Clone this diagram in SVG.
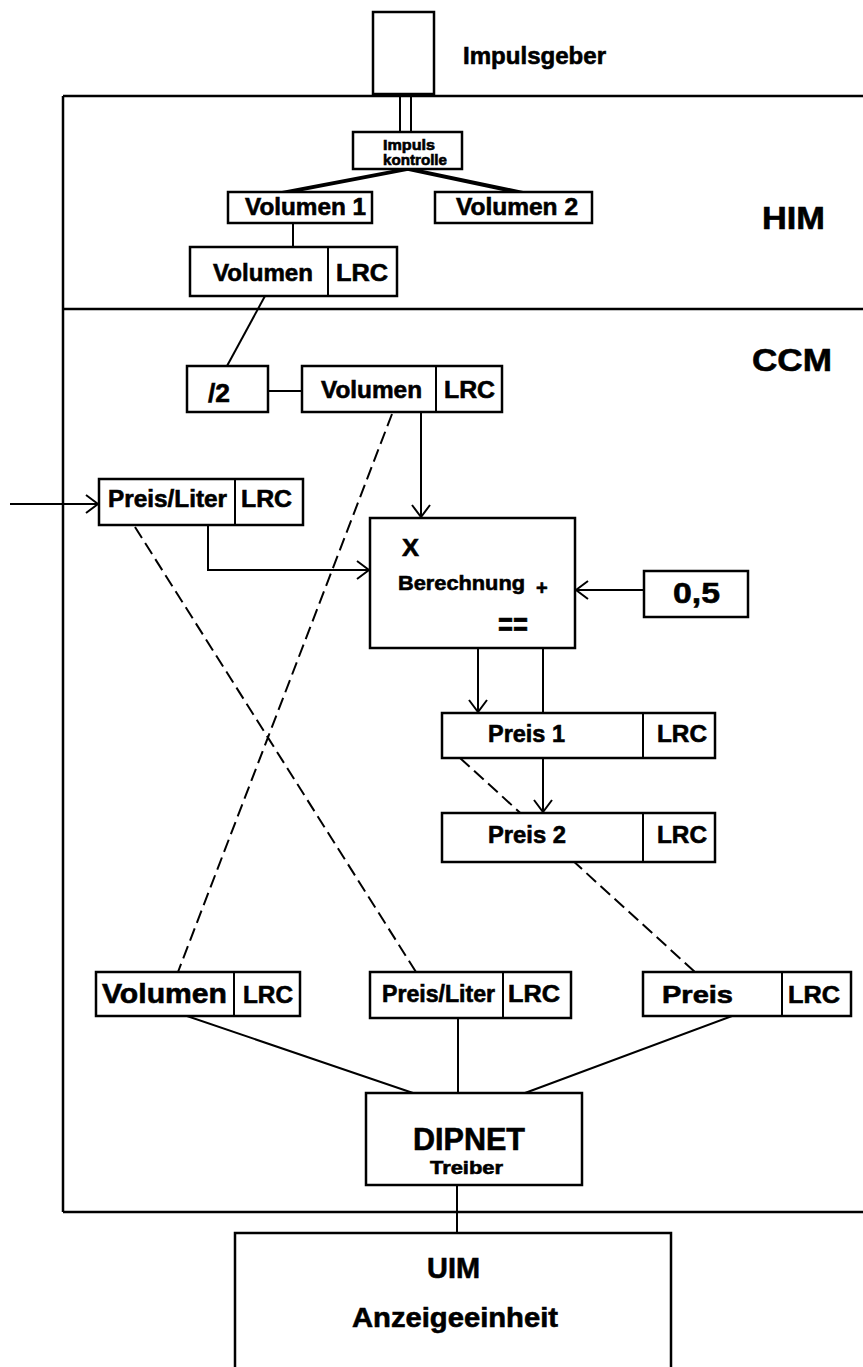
<svg xmlns="http://www.w3.org/2000/svg" width="863" height="1367" viewBox="0 0 863 1367">
<style>
  .box { fill: #fff; stroke: #000; stroke-width: 2.5; }
  .div { stroke: #000; stroke-width: 2; }
  .frame { stroke: #000; stroke-width: 2.5; fill: none; }
  .ln { stroke: #000; stroke-width: 2; fill: none; }
  .dash { stroke: #000; stroke-width: 2; fill: none; stroke-dasharray: 13 6; }
  .arr { marker-end: url(#ah); }
  text { font-family: "Liberation Sans", Arial, sans-serif; font-weight: bold; fill: #000; stroke: #000; stroke-width: 0.6; }
</style>
<defs>
  <marker id="ah" viewBox="0 0 14 20" refX="13" refY="10" markerWidth="14" markerHeight="20" markerUnits="userSpaceOnUse" orient="auto">
    <path d="M1,1 L13,10 L1,19" fill="none" stroke="#000" stroke-width="2"/>
  </marker>
</defs>
<rect width="863" height="1367" fill="#fff"/>

<g id="frame">
  <line class="frame" x1="63" y1="96" x2="863" y2="96"/>
  <line class="frame" x1="63" y1="96" x2="63" y2="1212"/>
  <line class="frame" x1="63" y1="1212" x2="863" y2="1212"/>
  <line class="frame" x1="63" y1="309" x2="863" y2="309"/>
  <text x="762" y="229" font-size="32" textLength="63" lengthAdjust="spacingAndGlyphs">HIM</text>
  <text x="752" y="371" font-size="32" textLength="80" lengthAdjust="spacingAndGlyphs">CCM</text>
</g>

<g id="connectors">
  <line class="ln" x1="400" y1="94" x2="400" y2="132"/>
  <line class="ln" x1="411" y1="94" x2="411" y2="132"/>
  <path class="ln" d="M403,169 L282,192 M412,169 L292,192"/>
  <path class="ln" d="M404,169 L513,192 M413,169 L523,192"/>
  <line class="ln" x1="293" y1="223" x2="293" y2="247"/>
  <line class="ln" x1="265" y1="296" x2="227" y2="366"/>
  <line class="ln" x1="268" y1="391" x2="302" y2="391"/>
  <line class="ln arr" x1="10" y1="504" x2="98" y2="504"/>
  <line class="ln arr" x1="421" y1="412" x2="421" y2="517"/>
  <polyline class="ln arr" points="208,525 208,570 369,570"/>
  <line class="ln arr" x1="644" y1="590" x2="576" y2="590"/>
  <line class="ln arr" x1="478" y1="648" x2="478" y2="712"/>
  <line class="ln" x1="543" y1="648" x2="543" y2="713"/>
  <line class="ln arr" x1="543" y1="758" x2="543" y2="812"/>
  <line class="dash" x1="392" y1="414" x2="178" y2="972"/>
  <line class="dash" x1="135" y1="527" x2="416" y2="972"/>
  <line class="dash" x1="460" y1="758" x2="695" y2="972"/>
  <line class="ln" x1="187" y1="1016" x2="413" y2="1093"/>
  <line class="ln" x1="458" y1="1018" x2="458" y2="1093"/>
  <line class="ln" x1="732" y1="1016" x2="525" y2="1093"/>
  <line class="ln" x1="457" y1="1185" x2="457" y2="1233"/>
</g>

<g id="impulsgeber">
  <rect class="box" x="373" y="12" width="61" height="82"/>
  <text x="463" y="64" font-size="24" textLength="143" lengthAdjust="spacingAndGlyphs">Impulsgeber</text>
</g>

<g id="impulskontrolle">
  <rect class="box" x="353" y="132" width="109" height="37"/>
  <text x="383" y="150" font-size="15" textLength="52" lengthAdjust="spacingAndGlyphs">Impuls</text>
  <text x="383" y="165" font-size="15" textLength="64" lengthAdjust="spacingAndGlyphs">kontrolle</text>
</g>

<g id="volumen1">
  <rect class="box" x="228" y="192" width="144" height="31"/>
  <text x="245" y="215" font-size="24" textLength="121" lengthAdjust="spacingAndGlyphs">Volumen 1</text>
</g>

<g id="volumen2">
  <rect class="box" x="435" y="192" width="157" height="31"/>
  <text x="456" y="215" font-size="24" textLength="122" lengthAdjust="spacingAndGlyphs">Volumen 2</text>
</g>

<g id="him-volumen">
  <rect class="box" x="190" y="247" width="207" height="49"/>
  <line class="div" x1="328" y1="247" x2="328" y2="296"/>
  <text x="213" y="281" font-size="24" textLength="100" lengthAdjust="spacingAndGlyphs">Volumen</text>
  <text x="336" y="281" font-size="24" textLength="52" lengthAdjust="spacingAndGlyphs">LRC</text>
</g>

<g id="half">
  <rect class="box" x="187" y="366" width="81" height="46"/>
  <text x="208" y="402" font-size="26" textLength="22" lengthAdjust="spacingAndGlyphs">/2</text>
</g>

<g id="ccm-volumen">
  <rect class="box" x="302" y="366" width="200" height="46"/>
  <line class="div" x1="436" y1="366" x2="436" y2="412"/>
  <text x="321" y="398" font-size="24" textLength="101" lengthAdjust="spacingAndGlyphs">Volumen</text>
  <text x="444" y="398" font-size="24" textLength="51" lengthAdjust="spacingAndGlyphs">LRC</text>
</g>

<g id="preisliter-in">
  <rect class="box" x="99" y="479" width="204" height="46"/>
  <line class="div" x1="235" y1="479" x2="235" y2="525"/>
  <text x="108" y="507" font-size="24" textLength="119" lengthAdjust="spacingAndGlyphs">Preis/Liter</text>
  <text x="241" y="507" font-size="24" textLength="51" lengthAdjust="spacingAndGlyphs">LRC</text>
</g>

<g id="berechnung">
  <rect class="box" x="370" y="518" width="205" height="130"/>
  <text x="402" y="556" font-size="24" textLength="17" lengthAdjust="spacingAndGlyphs">X</text>
  <text x="398" y="590" font-size="21" textLength="127" lengthAdjust="spacingAndGlyphs">Berechnung</text>
  <text x="536" y="595" font-size="20">+</text>
  <text x="498" y="636" font-size="34" textLength="30" lengthAdjust="spacingAndGlyphs">==</text>
</g>

<g id="konstante">
  <rect class="box" x="644" y="571" width="104" height="46"/>
  <text x="673" y="603" font-size="30" textLength="47" lengthAdjust="spacingAndGlyphs">0,5</text>
</g>

<g id="preis1">
  <rect class="box" x="442" y="713" width="273" height="45"/>
  <line class="div" x1="643" y1="713" x2="643" y2="758"/>
  <text x="488" y="742" font-size="24" textLength="77" lengthAdjust="spacingAndGlyphs">Preis 1</text>
  <text x="657" y="742" font-size="24" textLength="50" lengthAdjust="spacingAndGlyphs">LRC</text>
</g>

<g id="preis2">
  <rect class="box" x="442" y="813" width="273" height="49"/>
  <line class="div" x1="643" y1="813" x2="643" y2="862"/>
  <text x="488" y="843" font-size="24" textLength="78" lengthAdjust="spacingAndGlyphs">Preis 2</text>
  <text x="657" y="843" font-size="24" textLength="50" lengthAdjust="spacingAndGlyphs">LRC</text>
</g>

<g id="out-volumen">
  <rect class="box" x="96" y="972" width="204" height="44"/>
  <line class="div" x1="234" y1="972" x2="234" y2="1016"/>
  <text x="102" y="1003" font-size="28" textLength="125" lengthAdjust="spacingAndGlyphs">Volumen</text>
  <text x="243" y="1003" font-size="24" textLength="50" lengthAdjust="spacingAndGlyphs">LRC</text>
</g>

<g id="out-preisliter">
  <rect class="box" x="370" y="972" width="201" height="46"/>
  <line class="div" x1="503" y1="972" x2="503" y2="1018"/>
  <text x="382" y="1002" font-size="23" textLength="113" lengthAdjust="spacingAndGlyphs">Preis/Liter</text>
  <text x="508" y="1002" font-size="24" textLength="52" lengthAdjust="spacingAndGlyphs">LRC</text>
</g>

<g id="out-preis">
  <rect class="box" x="643" y="972" width="208" height="44"/>
  <line class="div" x1="782" y1="972" x2="782" y2="1016"/>
  <text x="662" y="1003" font-size="24" textLength="71" lengthAdjust="spacingAndGlyphs">Preis</text>
  <text x="788" y="1003" font-size="24" textLength="52" lengthAdjust="spacingAndGlyphs">LRC</text>
</g>

<g id="dipnet">
  <rect class="box" x="366" y="1093" width="216" height="92"/>
  <text x="413" y="1150" font-size="31" textLength="112" lengthAdjust="spacingAndGlyphs">DIPNET</text>
  <text x="430" y="1174" font-size="19" textLength="73" lengthAdjust="spacingAndGlyphs">Treiber</text>
</g>

<g id="uim">
  <rect class="box" x="235" y="1233" width="436" height="150"/>
  <text x="427" y="1278" font-size="30" textLength="53" lengthAdjust="spacingAndGlyphs">UIM</text>
  <text x="352" y="1327" font-size="28" textLength="206" lengthAdjust="spacingAndGlyphs">Anzeigeeinheit</text>
</g>
</svg>
